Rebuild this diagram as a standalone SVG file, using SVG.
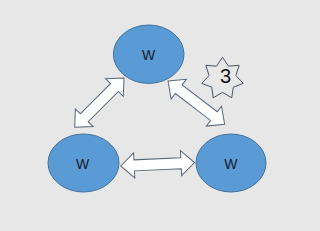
<svg xmlns="http://www.w3.org/2000/svg" width="320" height="231" viewBox="0 0 320 231">
  <style>
    .node { fill: #5B9BD5; stroke: #41719C; stroke-width: 1; }
    .lbl { font-family: "Liberation Sans", Arial, sans-serif; font-size: 14px; fill: #1a1a2e; text-anchor: middle; }
    .arrow { fill: #ffffff; stroke: #56657a; stroke-width: 1; stroke-linejoin: miter; }
    .star { fill: #e7e7e7; stroke: #4a5568; stroke-width: 1; }
  </style>
  <rect x="0" y="0" width="320" height="231" fill="#e7e7e7"/>
  <g id="connectors">
    <polygon class="arrow" transform="translate(74.7,127.3) rotate(-45)" points="0,0 13.5,-12.5 13.5,-5.5 56.2,-5.5 56.2,-12.5 69.7,0 56.2,12.5 56.2,5.5 13.5,5.5 13.5,12.5"/>
    <polygon class="arrow" transform="translate(168,81) rotate(37.4)" points="0,0 13.5,-12.5 13.5,-5.5 57.8,-5.5 57.8,-12.5 71.3,0 57.8,12.5 57.8,5.5 13.5,5.5 13.5,12.5"/>
    <polygon class="arrow" transform="translate(120.7,166) rotate(-2.7)" points="0,0 13.5,-12.5 13.5,-5.5 60.4,-5.5 60.4,-12.5 73.9,0 60.4,12.5 60.4,5.5 13.5,5.5 13.5,12.5"/>
  </g>
  <g id="node-top">
    <ellipse class="node" cx="148.7" cy="54.2" rx="35.3" ry="29.2"/>
    <text class="lbl" x="148.7" y="60">W</text>
  </g>
  <g id="node-left">
    <ellipse class="node" cx="83.5" cy="163" rx="35.5" ry="29"/>
    <text class="lbl" x="82.5" y="168.5">W</text>
  </g>
  <g id="node-right">
    <ellipse class="node" cx="231" cy="163" rx="35" ry="29"/>
    <text class="lbl" x="230.8" y="168.5">W</text>
  </g>
  <g id="badge">
    <polygon class="star" points="222.5,57.3 228.49,66.17 239.15,65.32 235.95,75.53 243.27,83.34 233.29,87.2 231.74,97.79 222.5,92.4 213.26,97.79 211.71,87.2 201.73,83.34 209.05,75.53 205.85,65.32 216.51,66.17"/>
    <text x="225.5" y="82.5" font-family="Liberation Sans, Arial, sans-serif" font-size="20" fill="#111111" text-anchor="middle">3</text>
  </g>
</svg>
